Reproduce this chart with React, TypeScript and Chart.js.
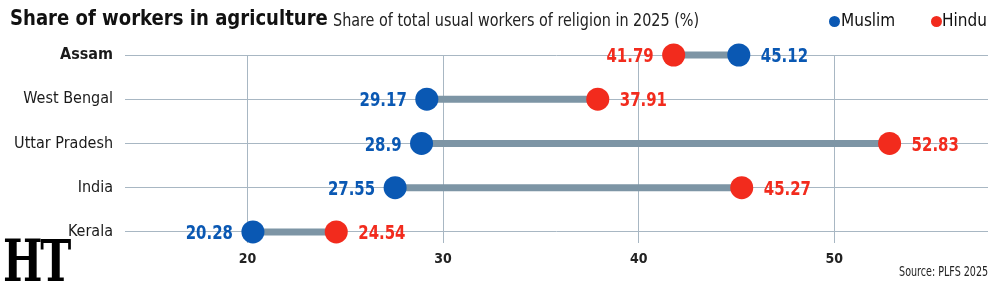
import React, { useEffect, useRef } from "react";
import { Chart, registerables } from "chart.js";

Chart.register(...registerables);

const regions = ["Assam", "West Bengal", "Uttar Pradesh", "India", "Kerala"];
const muslim = [45.12, 29.17, 28.9, 27.55, 20.28];
const hindu = [41.79, 37.91, 52.83, 45.27, 24.54];
const xTicks = [20, 30, 40, 50];

const BLUE = "#0a58b3";
const RED = "#f22b1d";
const LINK = "#7d95a5";
const GRID = "#a8b7c3";
const NARROW = '"Liberation Sans Narrow", "DejaVu Sans Condensed", "Arial Narrow", sans-serif';

export default function App() {
  const ref = useRef<HTMLCanvasElement>(null);

  useEffect(() => {
    document.body.style.margin = "0";
    const labelPlugin = {
      id: "valueLabels",
      afterDatasetsDraw(chart: any) {
        const ctx = chart.ctx;
        [0, 1].forEach((di) => {
          const meta = chart.getDatasetMeta(di);
          const vals = di === 0 ? muslim : hindu;
          const other = di === 0 ? hindu : muslim;
          meta.data.forEach((pt: any, i: number) => {
            const left = vals[i] < other[i];
            ctx.save();
            ctx.font = `bold 20px ${NARROW}`;
            ctx.textBaseline = "middle";
            ctx.fillStyle = di === 0 ? BLUE : RED;
            ctx.textAlign = left ? "right" : "left";
            ctx.translate(pt.x + (left ? -20 : 22), pt.y + 2);
            ctx.scale(0.83, 1);
            ctx.fillText(String(vals[i]), 0, 0);
            ctx.restore();
          });
        });
      },
    };

    const chart = new Chart(ref.current as HTMLCanvasElement, {
      type: "scatter",
      data: {
        datasets: [
          {
            label: "Muslim",
            data: muslim.map((v, i) => ({ x: v, y: i })),
            backgroundColor: BLUE,
            borderWidth: 0,
            pointRadius: 11.5,
            order: 0,
            clip: false,
          } as any,
          {
            label: "Hindu",
            data: hindu.map((v, i) => ({ x: v, y: i })),
            backgroundColor: RED,
            borderWidth: 0,
            pointRadius: 11.5,
            order: 0,
            clip: false,
          } as any,
          ...regions.map(
            (r, i) =>
              ({
                type: "line",
                label: r,
                data: [
                  { x: muslim[i], y: i },
                  { x: hindu[i], y: i },
                ],
                borderColor: LINK,
                borderWidth: 7,
                borderCapStyle: "butt",
                pointRadius: 0,
                order: 1,
                clip: false,
              } as any)
          ),
        ],
      },
      options: {
        responsive: false,
        animation: false,
        layout: { padding: { top: 55, right: 12, left: 0, bottom: 0 } },
        plugins: { legend: { display: false }, tooltip: { enabled: false } },
        scales: {
          x: {
            type: "linear",
            min: 13.74,
            max: 57.86,
            afterBuildTicks: (s: any) => {
              s.ticks = xTicks.map((v) => ({ value: v }));
            },
            afterFit: (s: any) => {
              s.height = 40;
            },
            grid: { color: GRID, lineWidth: 1, drawTicks: false },
            border: { display: false },
            ticks: {
              padding: 8,
              color: "#222",
              font: { family: NARROW, size: 14, weight: "bold" },
              callback: (v: any) => String(v),
            },
          },
          y: {
            type: "linear",
            min: 0,
            max: 4.25,
            reverse: true,
            afterBuildTicks: (s: any) => {
              s.ticks = regions.map((_, i) => ({ value: i }));
            },
            afterFit: (s: any) => {
              s.width = 125;
            },
            grid: { color: GRID, lineWidth: 1, drawTicks: false },
            border: { display: false },
            ticks: {
              padding: 12,
              color: "#1a1a1a",
              font: (c: any) => ({
                family: NARROW,
                size: 16,
                weight: c.index === 0 ? "bold" : "normal",
              }),
              callback: (v: any) => regions[v],
            },
          },
        } as any,
      },
      plugins: [labelPlugin],
    });
    return () => chart.destroy();
  }, []);

  const abs = (o: any) => ({ position: "absolute" as const, lineHeight: "1", whiteSpace: "nowrap" as const, ...o });

  return (
    <div style={{ position: "relative", width: 1000, height: 283, overflow: "hidden", background: "#fff" }}>
      <canvas ref={ref} width={1000} height={283} style={{ display: "block", width: 1000, height: 283 }} />
      <div
        style={abs({
          left: 10,
          top: 7,
          fontFamily: NARROW,
          fontSize: 22,
          fontWeight: "bold",
          color: "#111",
          transform: "scaleX(0.913)",
          transformOrigin: "left top",
        })}
      >
        Share of workers in agriculture
      </div>
      <div
        style={abs({
          left: 333,
          top: 12,
          fontFamily: NARROW,
          fontSize: 17,
          color: "#222",
          transform: "scaleX(0.94)",
          transformOrigin: "left top",
        })}
      >
        Share of total usual workers of religion in 2025 (%)
      </div>
      <div style={abs({ left: 829, top: 15.5, width: 11, height: 11, borderRadius: "50%", background: BLUE })} />
      <div style={abs({ left: 841, top: 12, fontFamily: NARROW, fontSize: 17, color: "#111" })}>Muslim</div>
      <div style={abs({ left: 931, top: 15.5, width: 11, height: 11, borderRadius: "50%", background: RED })} />
      <div style={abs({ left: 942, top: 12, fontFamily: NARROW, fontSize: 17, color: "#111" })}>Hindu</div>
      <div
        style={abs({
          right: 12,
          top: 264,
          fontFamily: NARROW,
          fontSize: 14,
          color: "#222",
          transform: "scaleX(0.76)",
          transformOrigin: "right top",
        })}
      >
        Source: PLFS 2025
      </div>
      <div
        style={abs({
          left: 3,
          top: 232,
          fontFamily: '"DejaVu Serif", serif',
          fontSize: 58,
          fontWeight: "bold",
          color: "#000",
          letterSpacing: -3,
          transform: "scaleX(0.72)",
          transformOrigin: "left top",
        })}
      >
        HT
      </div>
    </div>
  );
}
